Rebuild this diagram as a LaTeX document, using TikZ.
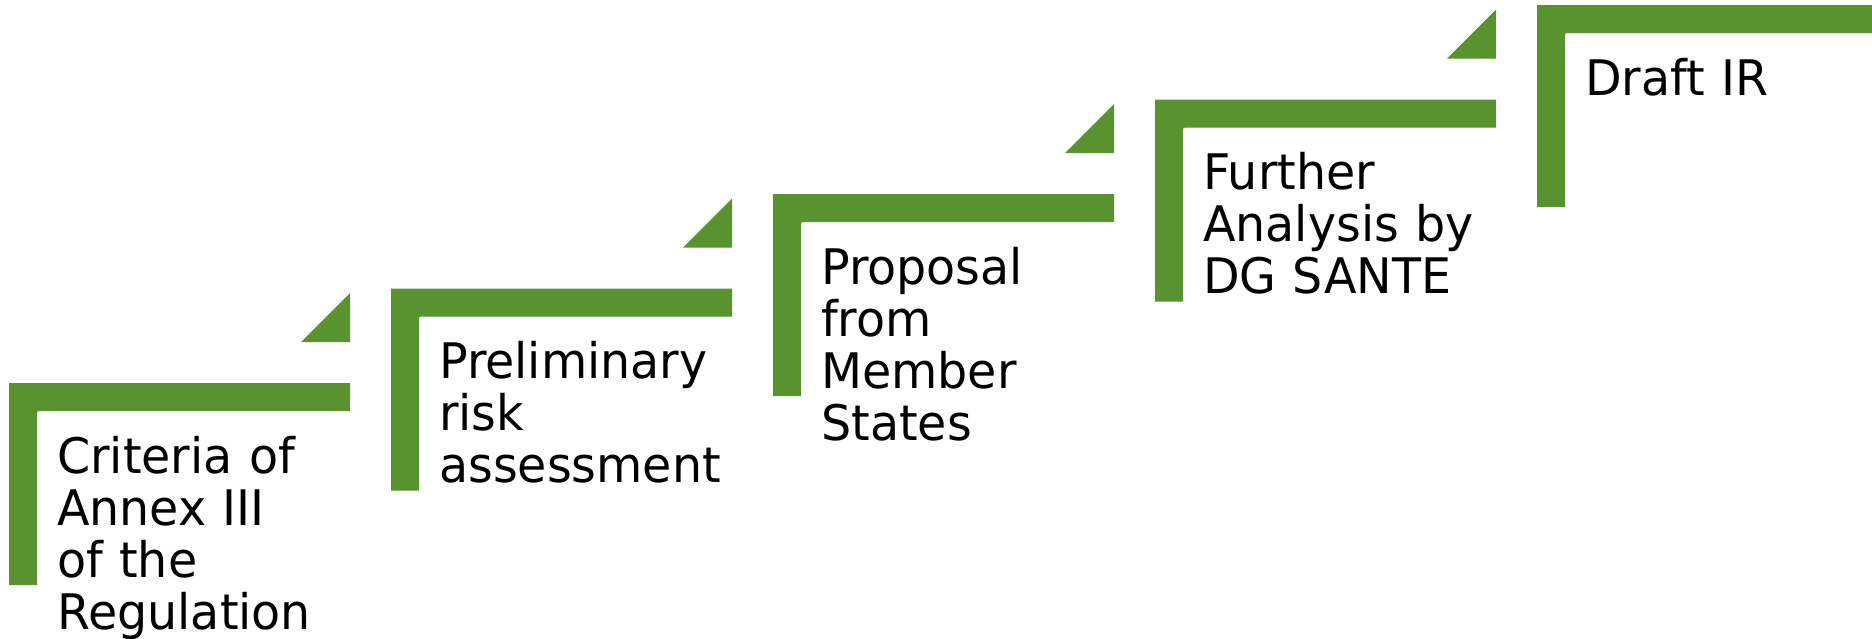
\documentclass[tikz,border=0pt]{standalone}
\usepackage{fontspec}
\setmainfont{DejaVu Sans}[FakeStretch=0.97]
\definecolor{stepgreen}{RGB}{89,147,48}
\tikzset{
  steptext/.style={anchor=base west, inner sep=0pt, text width=330pt, align=left,
    font=\fontsize{49}{52}\selectfont, text=black}
}
\newcommand{\stepshape}[2]{% #1 = left x, #2 = top y
  \fill[stepgreen] (#1,#2) -- ({#1+341},#2) -- ({#1+341},{#2+28}) -- ({#1+31},{#2+28})
    .. controls ({#1+28},{#2+28}) .. ({#1+28},{#2+31}) -- ({#1+28},{#2+202}) -- (#1,{#2+202}) -- cycle;
}
\newcommand{\steptri}[2]{% #1 = left x of step, #2 = top y of step
  \fill[stepgreen] ({#1+292},{#2-41}) -- ({#1+341},{#2-41}) -- ({#1+341},{#2-90}) -- cycle;
}
\begin{document}
\begin{tikzpicture}[x=1pt,y=-1pt]
\useasboundingbox[fill=white] (0,0) rectangle (1872,638);
% steps
\stepshape{9}{383}
\stepshape{391}{288.5}
\stepshape{773}{194}
\stepshape{1155}{99.5}
\fill[stepgreen] (1537,5) -- (1872,5) -- (1872,33) -- (1568,33)
  .. controls (1565,33) .. (1565,36) -- (1565,207) -- (1537,207) -- cycle;
% triangles
\steptri{9}{383}
\steptri{391}{288.5}
\steptri{773}{194}
\steptri{1155}{99.5}
% texts
\node[steptext] (t1) at (57,473) {Criteria of\\Annex III\\of the\\Regulation};
\node[steptext] (t2) at (439,378.5) {Preliminary\\risk\\assessment};
\node[steptext] (t3) at (821,284) {Proposal\\from\\Member\\States};
\node[steptext] (t4) at (1203,189.5) {Further\\Analysis by\\DG SANTE};
\node[steptext] (t5) at (1585,95) {Draft IR};
\end{tikzpicture}
\end{document}
